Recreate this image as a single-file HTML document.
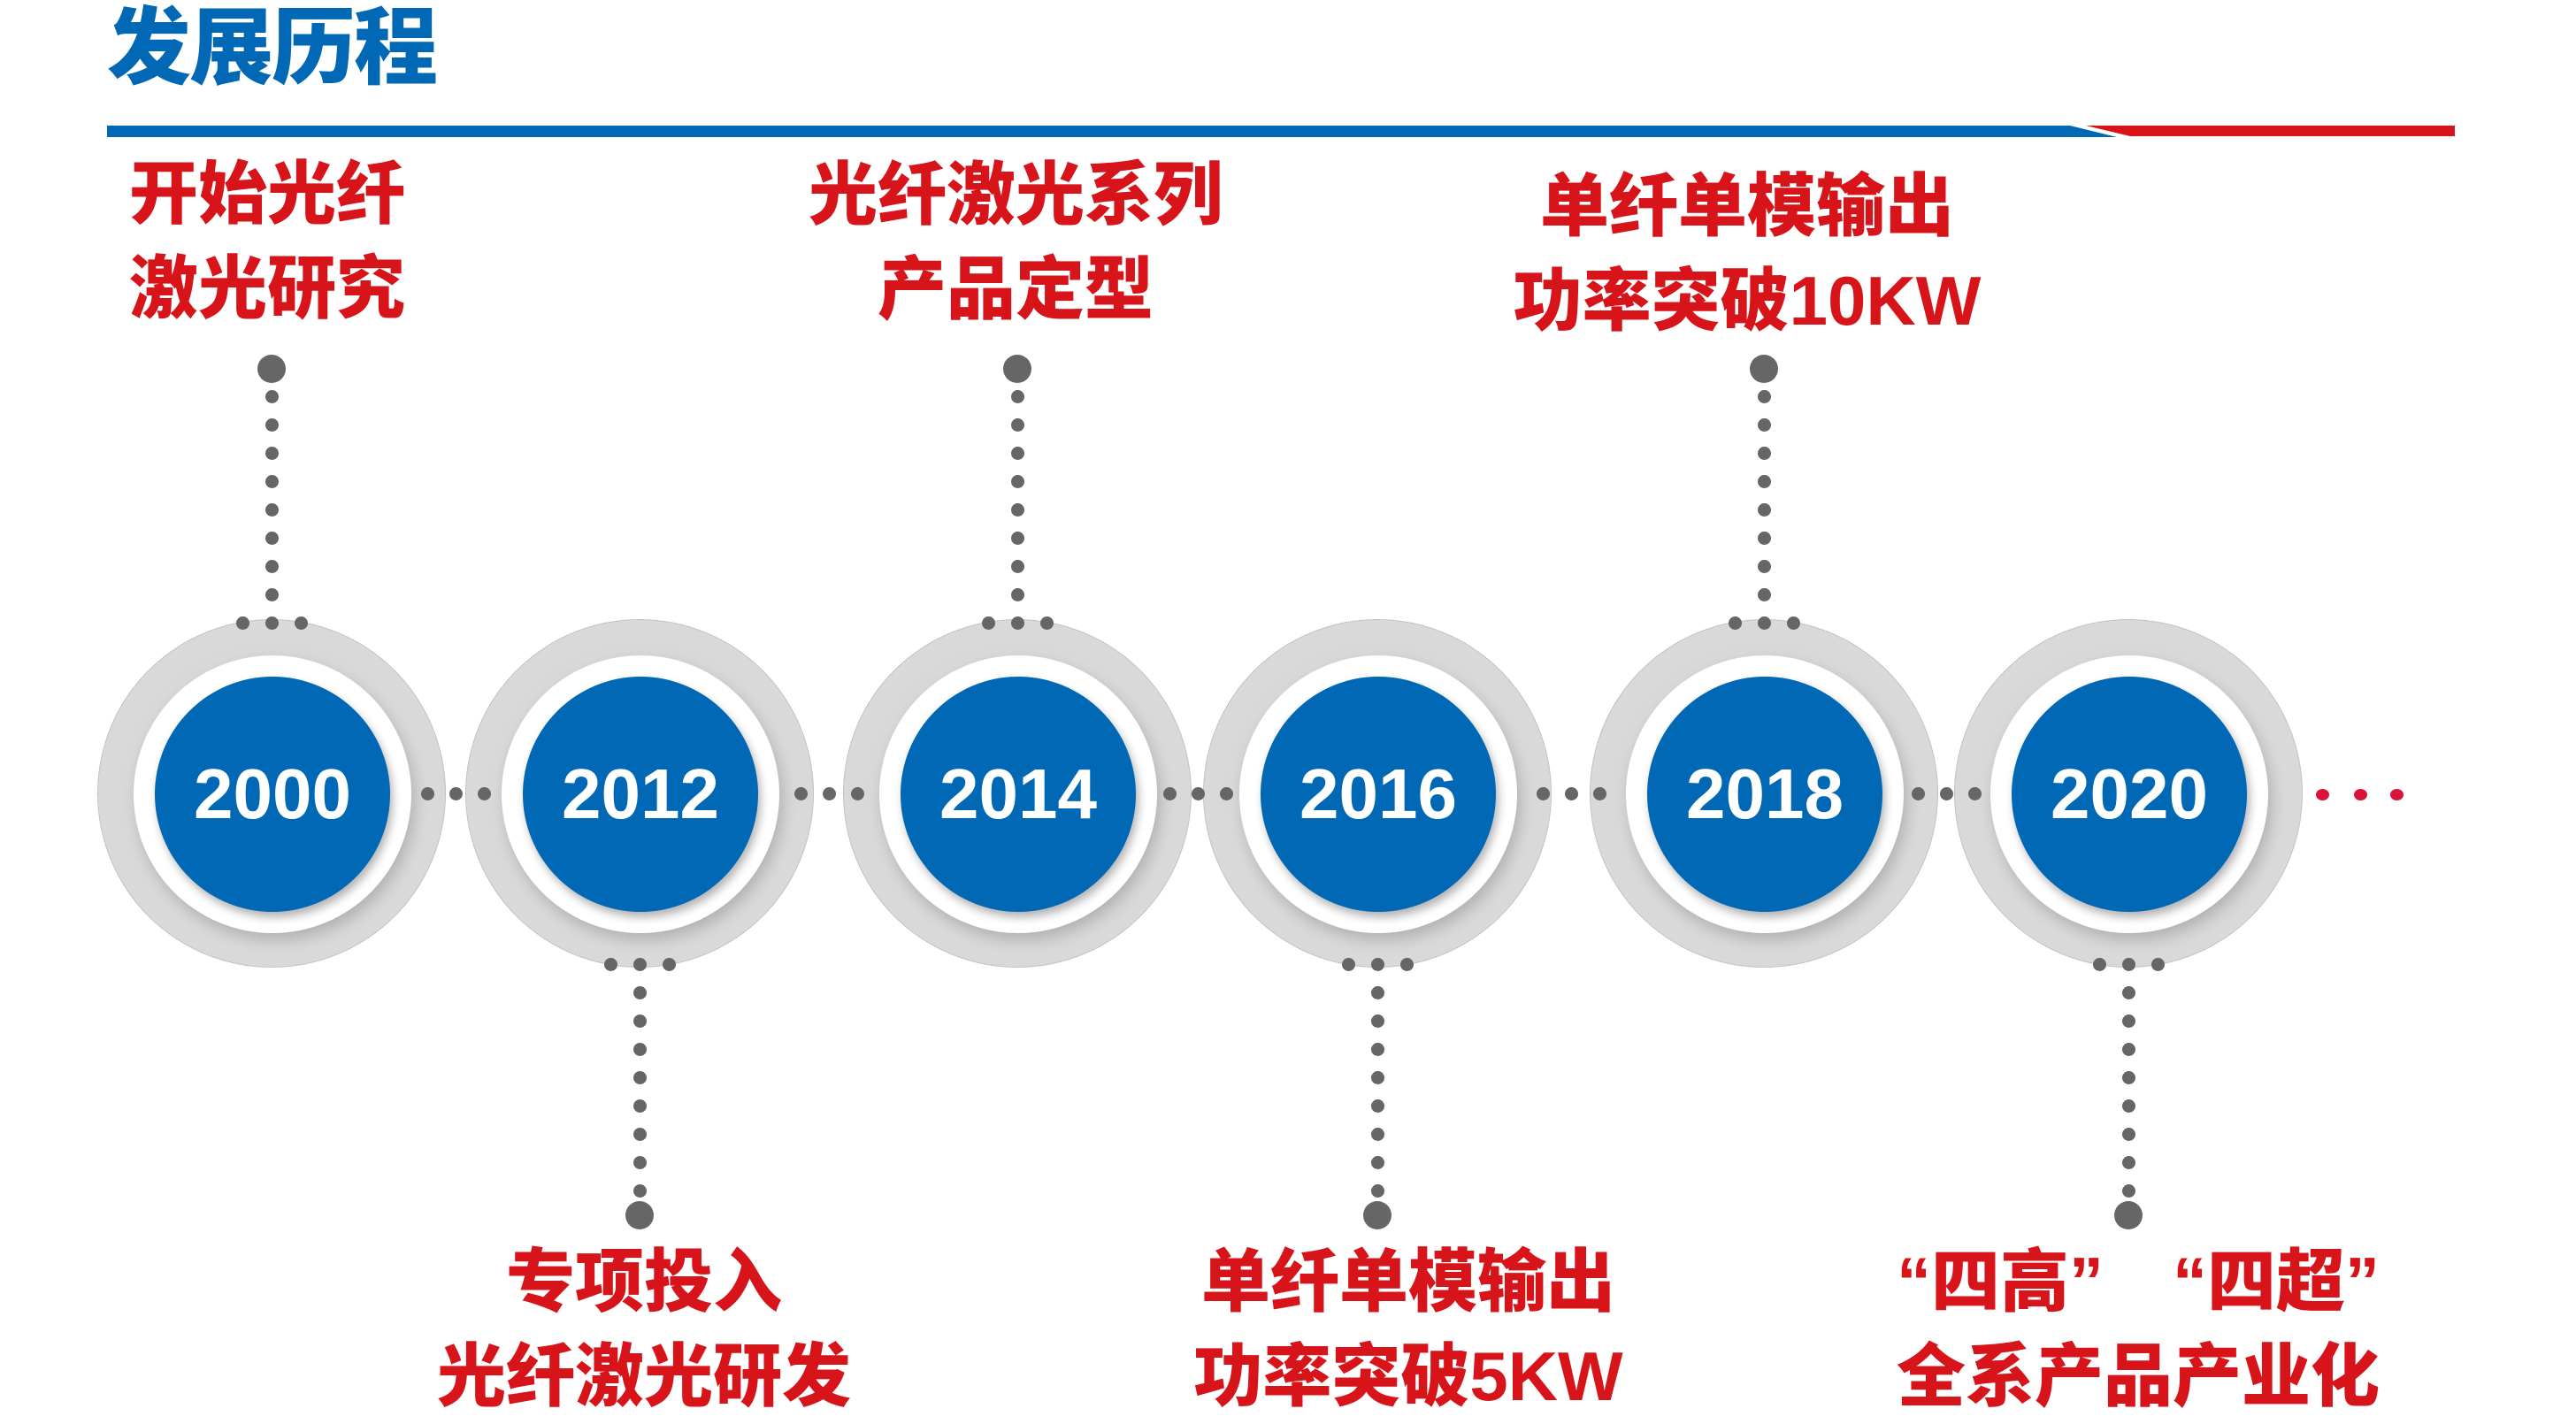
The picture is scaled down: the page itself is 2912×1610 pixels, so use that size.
<!DOCTYPE html>
<html><head><meta charset="utf-8"><style>
html,body{margin:0;padding:0;background:#fff;}
body{width:2912px;height:1604px;position:relative;overflow:hidden;font-family:"Liberation Sans","Noto Sans CJK SC",sans-serif;}
.title{position:absolute;left:121px;top:0px;font-size:95px;font-weight:900;color:#0068b5;line-height:110px;letter-spacing:-2px;}
.lbl{position:absolute;width:700px;text-align:center;color:#d7141a;font-weight:900;font-size:78px;line-height:107px;white-space:nowrap;}
.outer{position:absolute;width:394px;height:394px;border-radius:50%;background:radial-gradient(circle,#d6d6d6 0%,#d9d9d9 72%,#ebebeb 82%,#f8f8f8 92%,#fefefe 100%);border:1px dotted #aaa;box-sizing:border-box;}
.white{position:absolute;left:40px;top:40px;width:314px;height:314px;border-radius:50%;background:#fff;box-shadow:4px 8px 16px rgba(0,0,0,.18);}
.blue{position:absolute;left:24px;top:24px;width:266px;height:266px;border-radius:50%;background:#0068b5;box-shadow:3px 6px 10px rgba(0,0,0,.3);color:#fff;font-weight:bold;font-size:80px;line-height:266px;text-align:center;}
.d{position:absolute;width:15px;height:15px;border-radius:50%;background:#666;}
.big{position:absolute;width:32px;height:32px;border-radius:50%;background:#666;}
.r{position:absolute;width:15px;height:13px;border-radius:50%;background:#d9143a;}
</style></head><body>
<div class="title">发展历程</div>
<svg style="position:absolute;left:0;top:0" width="2912" height="170">
<polygon points="121,142 2340,142 2393,155 121,155" fill="#0068b5"/>
<polygon points="2358,142 2775,142 2775,154 2408,154" fill="#d7141a"/>
</svg>

<div class="lbl" style="left:-46px;top:166px;text-align:left;padding-left:192px;">开始光纤<br>激光研究</div>
<div class="lbl" style="left:798px;top:167px;">光纤激光系列<br>产品定型</div>
<div class="lbl" style="left:1625px;top:180px;">单纤单模输出<br>功率突破10KW</div>
<div class="lbl" style="left:378px;top:1396px;">专项投入<br>光纤激光研发</div>
<div class="lbl" style="left:1242px;top:1396px;">单纤单模输出<br>功率突破5KW</div>
<div class="lbl" style="left:2067px;top:1396px;">“四高”　“四超”<br>全系产品产业化</div>

<div id="c"></div>
<script>
var cx=[307,723,1150,1557,1994,2406],cy=897,h='',dd='';
var yrs=['2000','2012','2014','2016','2018','2020'];
for(var i=0;i<6;i++){
 h+='<div class="outer" style="left:'+(cx[i]-197)+'px;top:'+(cy-197)+'px"><div class="white"><div class="blue">'+yrs[i]+'</div></div></div>';
 if(i<5){var m=(cx[i]+cx[i+1])/2;for(var k=-1;k<=1;k++)dd+='<div class="d" style="left:'+(m+k*32-7)+'px;top:'+(cy-7)+'px"></div>';}
 var isTop=(i%2==0);
 var ry=isTop?704:1090;
 for(var k=-1;k<=1;k++)dd+='<div class="d" style="left:'+(cx[i]+k*33-7)+'px;top:'+(ry-7)+'px"></div>';
 for(var k=1;k<=8;k++){var y=isTop?(ry-k*32):(ry+k*32);dd+='<div class="d" style="left:'+(cx[i]-7)+'px;top:'+(y-7)+'px"></div>';}
 var by=isTop?417:1374;
 dd+='<div class="big" style="left:'+(cx[i]-16)+'px;top:'+(by-16)+'px"></div>';
}
[2625,2668,2709].forEach(function(x){dd+='<div class="r" style="left:'+(x-7)+'px;top:'+(cy-5)+'px"></div>';});
document.getElementById('c').innerHTML=h+dd;
</script>
</body></html>
